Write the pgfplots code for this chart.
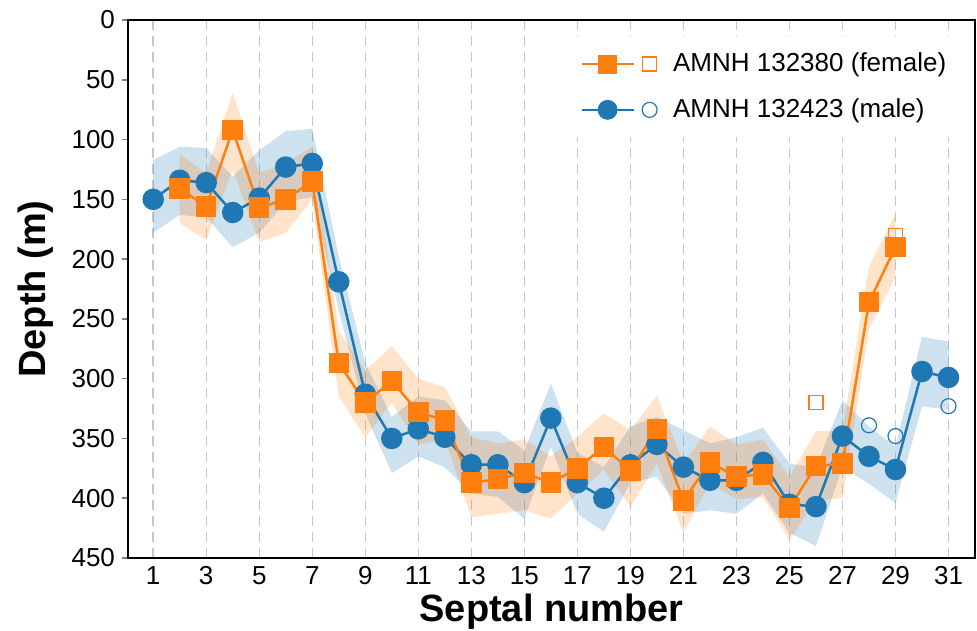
\documentclass[border=0pt]{standalone}
\usepackage{fontspec}
\setmainfont{Liberation Sans}
\usepackage{pgfplots}
\usepackage{pgfplotstable}
\pgfplotsset{compat=1.18}
\usepgfplotslibrary{fillbetween}

\definecolor{cOrange}{HTML}{FF7F0E}
\definecolor{cBlue}{HTML}{1F77B4}

% male, AMNH 132423: septum, depth, band top, band bottom
\pgfplotstableread{
x  y   top bot
1  150 117 178
2  134 106 163
3  136 107 165
4  161 131 190
5  149 109 178
6  123 93  152
7  120 91  148
8  219 198 243
9  313 287 329
10 350 332 379
11 342 315 365
12 349 318 374
13 372 344 396
14 372 344 399
15 387 360 417
16 333 304 357
17 387 362 413
18 400 374 428
19 372 340 387
20 355 332 382
21 374 343 413
22 385 354 410
23 385 349 413
24 370 341 396
25 405 371 429
26 407 374 440
27 348 318 374
28 365 340 388
29 376 357 404
30 294 265 323
31 299 269 326
}\maledata

% female, AMNH 132380
\pgfplotstableread{
x  y   top bot
2  141 112 170
3  156 128 184
4  92  61  125
5  157 128 186
6  150 120 178
7  135 106 150
8  287 260 315
9  320 293 349
10 302 273 320
11 328 300 355
12 335 307 351
13 387 349 416
14 384 354 413
15 379 351 410
16 387 365 417
17 375 349 396
18 357 329 376
19 377 343 407
20 342 314 371
21 402 371 429
22 370 340 387
23 382 355 401
24 380 351 399
25 408 382 435
26 373 344 402
27 371 343 400
28 236 206 259
29 190 162 215
}\femaledata

\begin{document}
\begin{tikzpicture}
\begin{axis}[
  at={(0,0)}, anchor=south west,
  width=423.5pt, height=269pt, scale only axis,
  xmin=0.05, xmax=32, ymin=0, ymax=450, y dir=reverse,
  xtick={1,3,...,31}, ytick={0,50,...,450},
  xmajorgrids,
  grid style={draw=black!22, line width=0.7pt, dash pattern=on 5pt off 3pt},
  axis line style={line width=1.4pt},
  xtick style={draw=none},
  ytick style={line width=0.8pt},
  ytick pos=left, tick align=outside, major tick length=3pt,
  /pgf/number format/assume math mode=true,
  tick label style={font=\fontsize{13}{13}\selectfont},
  xticklabel style={yshift=1pt, inner ysep=2pt},
  xlabel={Septal number}, ylabel={Depth (m)},
  label style={font=\bfseries\fontsize{19}{20}\selectfont},
  xlabel style={at={(rel axis cs:0.5,0)}, anchor=center, yshift=-27pt, inner ysep=0pt},
  ylabel style={at={(rel axis cs:0,0.5)}, anchor=center, yshift=46pt},
  legend style={draw=none, fill=white, font=\fontsize{13}{13}\selectfont,
    anchor=north west, at={(rel axis cs:0.5218,0.969)},
    inner xsep=5pt, inner ysep=6pt, row sep=8pt, column sep=6pt},
  legend cell align=left,
]
\addlegendimage{legend image code/.code={
  \draw[cOrange, line width=1.25pt] (0pt,0pt) -- (26pt,0pt);
  \draw[cOrange] plot[only marks, mark=square*, mark size=4.5pt] coordinates {(13pt,0pt)};
  \draw[cOrange, line width=0.6pt] plot[only marks, mark=square, mark size=3.5pt] coordinates {(34pt,0pt)};
}}
\addlegendentry{AMNH 132380 (female)}
\addlegendimage{legend image code/.code={
  \draw[cBlue, line width=1.25pt] (0pt,0pt) -- (26pt,0pt);
  \draw[cBlue] plot[only marks, mark=*, mark size=4.75pt] coordinates {(13pt,0pt)};
  \draw[cBlue, line width=0.6pt] plot[only marks, mark=o, mark size=3.75pt] coordinates {(34pt,0pt)};
}}
\addlegendentry{AMNH 132423 (male)}

% bands
\addplot[name path=mt, draw=none, forget plot] table[x=x, y=top]{\maledata};
\addplot[name path=mb, draw=none, forget plot] table[x=x, y=bot]{\maledata};
\addplot[fill=cBlue, fill opacity=0.22, draw=none, forget plot] fill between[of=mt and mb];
\addplot[name path=ft, draw=none, forget plot] table[x=x, y=top]{\femaledata};
\addplot[name path=fb, draw=none, forget plot] table[x=x, y=bot]{\femaledata};
\addplot[fill=cOrange, fill opacity=0.22, draw=none, forget plot] fill between[of=ft and fb];

% lines
\addplot[cBlue, line width=1.25pt, mark=*, mark size=4.75pt, forget plot]
  table[x=x, y=y]{\maledata};
\addplot[cOrange, line width=1.25pt, mark=square*, mark size=4.5pt, forget plot]
  table[x=x, y=y]{\femaledata};

% open symbols
\addplot[cOrange, only marks, mark=square, mark size=3.5pt, mark options={line width=0.6pt}, forget plot]
  coordinates {(26,320) (29,180)};
\addplot[cBlue, only marks, mark=o, mark size=3.75pt, mark options={line width=0.6pt}, forget plot]
  coordinates {(28,339) (29,348) (31,323)};
\end{axis}
\pgfresetboundingbox
\useasboundingbox (-64pt,-36pt) rectangle (424.5pt,279pt);
\end{tikzpicture}
\end{document}
